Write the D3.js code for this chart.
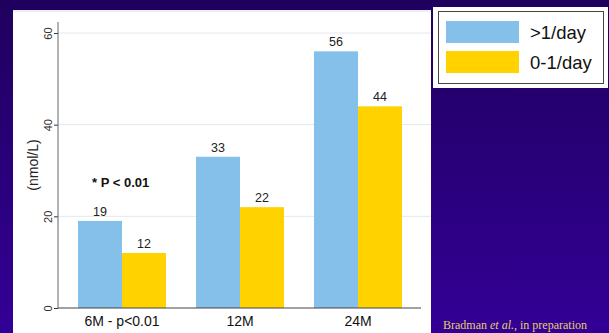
<!DOCTYPE html>
<html>
<head>
<meta charset="utf-8">
<script src="https://cdn.jsdelivr.net/npm/d3@7"></script>
<style>
  body { margin: 0; padding: 0; overflow: hidden; }
  svg { display: block; }
</style>
</head>
<body>
<svg id="chart" width="609" height="333"></svg>
<script>
// data
var categories = ["6M - p<0.01", "12M", "24M"];
var seriesNames = [">1/day", "0-1/day"];
var seriesColors = ["#84c0ea", "#ffd200"];
var frequent = [19, 33, 56];
var rare = [12, 22, 44];
var yTicks = [0, 20, 40, 60];

var svg = d3.select("#chart");

// purple slide background
var defs = svg.append("defs");
var grad = defs.append("linearGradient").attr("id", "bg")
  .attr("x1", 0).attr("y1", 0).attr("x2", 0).attr("y2", 1);
grad.append("stop").attr("offset", "0%").attr("stop-color", "#1f005e");
grad.append("stop").attr("offset", "100%").attr("stop-color", "#330096");
svg.append("rect").attr("width", 609).attr("height", 333).attr("fill", "url(#bg)");

// white plot panel
svg.append("rect").attr("x", 13).attr("y", 10).attr("width", 418).attr("height", 330)
  .attr("fill", "#ffffff");
svg.append("rect").attr("x", 13).attr("y", 10).attr("width", 418).attr("height", 2)
  .attr("fill", "#eceef4");

// scales
var y = d3.scaleLinear().domain([0, 60]).range([308, 33]);
var x0 = d3.scaleBand().domain(categories).range([63, 417])
  .paddingInner(30 / 118).paddingOuter(15 / 118);
var x1 = d3.scaleBand().domain(seriesNames).range([0, x0.bandwidth()]);

// gridlines
svg.append("g").selectAll("line").data(yTicks.filter(function(d){ return d > 0; }))
  .enter().append("line")
  .attr("x1", 58).attr("x2", 431)
  .attr("y1", function(d){ return y(d); }).attr("y2", function(d){ return y(d); })
  .attr("stroke", "#e2e8f0").attr("stroke-width", 1);

// bars
var rows = categories.map(function(c, i){ return { cat: c, vals: [frequent[i], rare[i]] }; });
var groups = svg.append("g").selectAll("g").data(rows).enter().append("g")
  .attr("transform", function(d){ return "translate(" + x0(d.cat) + ",0)"; });

groups.selectAll("rect").data(function(d){
    return d.vals.map(function(v, j){ return { name: seriesNames[j], v: v, j: j }; });
  })
  .enter().append("rect")
  .attr("x", function(d){ return x1(d.name); })
  .attr("width", x1.bandwidth())
  .attr("y", function(d){ return y(d.v); })
  .attr("height", function(d){ return y(0) - y(d.v); })
  .attr("fill", function(d){ return seriesColors[d.j]; });

groups.selectAll("text").data(function(d){
    return d.vals.map(function(v, j){ return { name: seriesNames[j], v: v }; });
  })
  .enter().append("text")
  .attr("x", function(d){ return x1(d.name) + x1.bandwidth() / 2; })
  .attr("y", function(d){ return y(d.v) - 5; })
  .attr("text-anchor", "middle")
  .attr("font-family", "Liberation Sans, Arial, sans-serif")
  .attr("font-size", 12.5)
  .attr("fill", "#222")
  .text(function(d){ return d.v; });

// y axis
var yAxis = d3.axisLeft(y).tickValues(yTicks).tickSize(4).tickPadding(6);
var ya = svg.append("g").attr("transform", "translate(58,0)").call(yAxis);
ya.select(".domain").remove();
ya.append("line").attr("x1", 0).attr("x2", 0).attr("y1", 22).attr("y2", 308)
  .attr("stroke", "#666").attr("stroke-width", 1);
ya.selectAll(".tick line").attr("stroke", "#333");
ya.selectAll(".tick text")
  .attr("transform", function(){ return "rotate(-90," + (-10) + ",0)"; })
  .attr("x", -10).attr("dy", "0.32em")
  .attr("text-anchor", "middle")
  .attr("font-family", "Liberation Sans, Arial, sans-serif")
  .attr("font-size", 11).attr("fill", "#333");

svg.append("text")
  .attr("transform", "translate(38,165) rotate(-90)")
  .attr("text-anchor", "middle")
  .attr("font-family", "Liberation Sans, Arial, sans-serif")
  .attr("font-size", 14).attr("fill", "#222")
  .text("(nmol/L)");

// x axis
var xa = svg.append("g").attr("transform", "translate(0,308)")
  .call(d3.axisBottom(x0).tickSize(0).tickPadding(8));
xa.select(".domain").remove();
xa.append("line").attr("x1", 58).attr("x2", 421).attr("y1", 0).attr("y2", 0)
  .attr("stroke", "#444").attr("stroke-width", 1.2);
xa.selectAll(".tick text")
  .attr("font-family", "Liberation Sans, Arial, sans-serif")
  .attr("font-size", 14).attr("fill", "#111");

// significance note
svg.append("text").attr("x", 92).attr("y", 187)
  .attr("font-family", "Liberation Sans, Arial, sans-serif")
  .attr("font-size", 13).attr("font-weight", "bold").attr("fill", "#111")
  .text("* P < 0.01");

// legend
var lg = svg.append("g");
lg.append("rect").attr("x", 433).attr("y", 7).attr("width", 175).attr("height", 81)
  .attr("fill", "#ffffff");
lg.append("rect").attr("x", 438.5).attr("y", 11.5).attr("width", 165).attr("height", 72)
  .attr("fill", "none").attr("stroke", "#444").attr("stroke-width", 1);
seriesNames.forEach(function(n, i){
  lg.append("rect").attr("x", 446).attr("y", 21 + i * 30).attr("width", 73).attr("height", 22)
    .attr("fill", seriesColors[i]);
  lg.append("text").attr("x", 530).attr("y", 39 + i * 30)
    .attr("font-family", "Liberation Sans, Arial, sans-serif")
    .attr("font-size", 18.5).attr("fill", "#111")
    .text(n);
});

// source note
var src = svg.append("text").attr("x", 443).attr("y", 329)
  .attr("font-family", "Liberation Serif, Times New Roman, serif")
  .attr("font-size", 12).attr("fill", "#e6cf6a");
src.append("tspan").text("Bradman ");
src.append("tspan").attr("font-style", "italic").text("et al.");
src.append("tspan").text(", in preparation");
</script>
</body>
</html>
